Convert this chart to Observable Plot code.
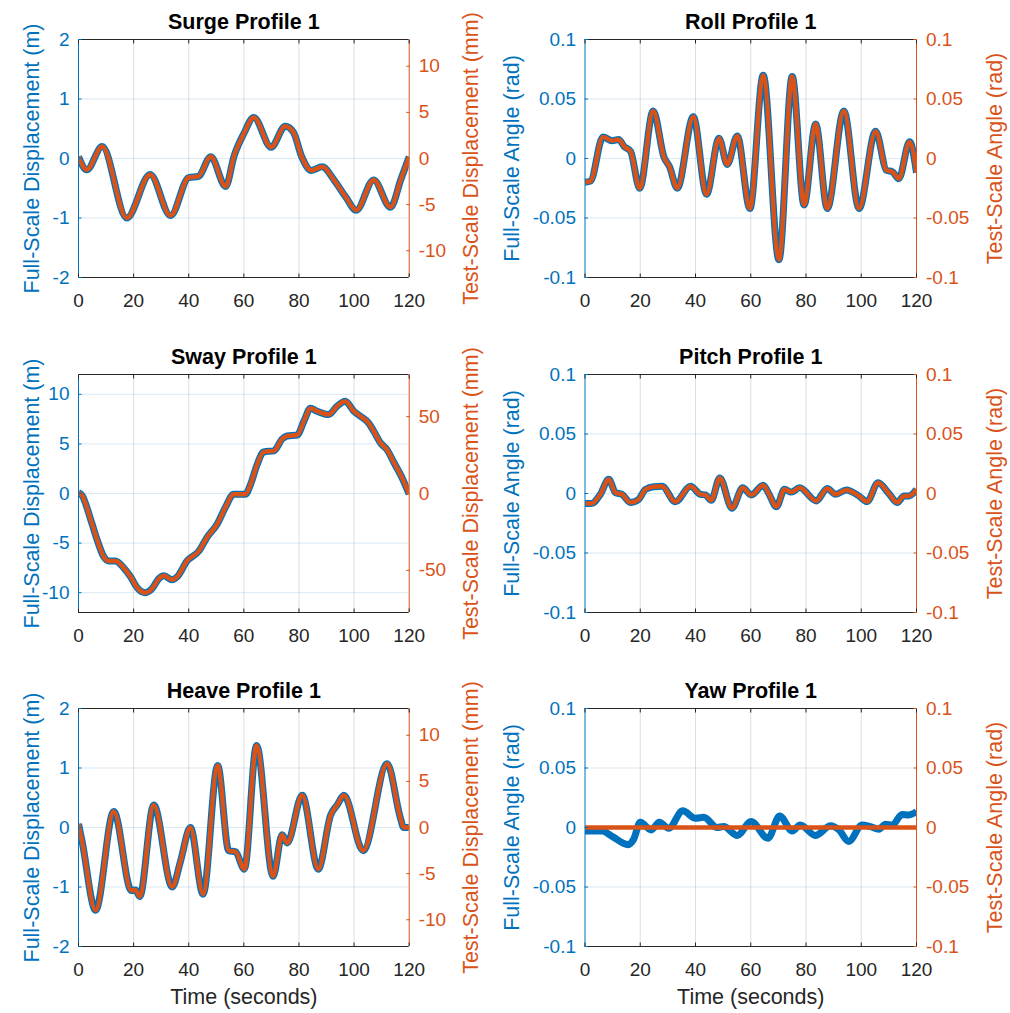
<!DOCTYPE html>
<html><head><meta charset="utf-8">
<script src="https://cdn.jsdelivr.net/npm/d3@7"></script>
<script src="https://cdn.jsdelivr.net/npm/@observablehq/plot@0.6"></script>
<style>
body{margin:0;background:#fff;}
#root{position:relative;width:1010px;height:1013px;}
#root > div{position:absolute;}
</style></head><body><div id="root"></div>
<script>
// ---------------- DATA ----------------
const timeTicks = [0, 20, 40, 60, 80, 100, 120];
const timeGrid = [20, 40, 60, 80, 100];
const mmPerM = 6.45; // test-scale mm per full-scale m (1:155 model)

const dispTicks = [-2, -1, 0, 1, 2];
const dispMmTicks = [-10, -5, 0, 5, 10];
const swayTicks = [-10, -5, 0, 5, 10];
const swayMmTicks = [-50, 0, 50];
const angleTicks = [-0.1, -0.05, 0, 0.05, 0.1];

const surgeT = [0, 3, 8.6, 17.5, 26, 33.4, 40, 43.5, 48, 53.4, 56.5, 60, 63.6, 69.9, 75, 78, 81, 84.5, 88.4, 93, 97, 100.8, 107.1, 113.2, 117, 120];
const surgeV = [0.03, -0.19, 0.2, -1.0, -0.27, -0.96, -0.32, -0.3, 0.03, -0.47, 0.05, 0.42, 0.69, 0.19, 0.54, 0.44, 0.03, -0.2, -0.14, -0.38, -0.65, -0.87, -0.36, -0.82, -0.35, 0.03];

const swayT = [0, 1.3, 4.4, 6.8, 9.2, 11, 13.4, 16.4, 18.9, 21.3, 24.3, 26.7, 29.1, 31, 34, 35.8, 39.4, 43.7, 46.7, 50.3, 53.3, 56.3, 60.6, 62.4, 64.8, 67.2, 70.9, 73.9, 75.7, 79.4, 81.8, 84.2, 86.6, 90.8, 93.8, 96.8, 99.9, 102.3, 105.3, 107.1, 109.6, 112, 114.5, 117.4, 120];
const swayV = [0.1, -0.2, -2.6, -4.7, -6.4, -6.8, -6.8, -7.5, -8.4, -9.5, -10.0, -9.6, -8.6, -8.3, -8.7, -8.4, -6.8, -5.8, -4.4, -3.1, -1.4, -0.07, -0.07, 0.9, 2.9, 4.2, 4.3, 5.5, 5.8, 5.9, 7.3, 8.6, 8.3, 7.96, 8.8, 9.3, 8.3, 7.8, 7.1, 6.3, 5.1, 4.4, 3.1, 1.6, -0.07];

const heaveT = [0, 1.3, 6.2, 12.8, 19.2, 20.7, 22.2, 27.3, 34, 37, 40.6, 45.2, 50.5, 54.5, 57, 60.2, 64.6, 70.6, 73.9, 75.7, 81.2, 87, 91.5, 93.9, 96.3, 103.3, 112, 116.8, 118, 120];
const heaveV = [0.06, -0.23, -1.39, 0.27, -1.06, -1.05, -1.16, 0.38, -1.0, -0.57, 0.0, -1.12, 1.04, -0.39, -0.41, -0.7, 1.38, -0.82, -0.12, -0.26, 0.54, -0.7, 0.21, 0.38, 0.54, -0.39, 1.07, 0.16, 0.0, 0.0];

const rollT = [0, 2, 6.5, 9.8, 12.2, 14.2, 16.5, 19.8, 24.7, 28.6, 30.6, 33.4, 39.2, 44, 48.5, 51.5, 55.1, 59.7, 64.5, 70.2, 75, 79.3, 83.5, 87.7, 93.7, 99.2, 105.2, 109.2, 111.2, 113.6, 117.5, 120];
const rollV = [-0.02, -0.019, 0.018, 0.015, 0.016, 0.01, 0.006, -0.025, 0.04, 0.001, -0.007, -0.025, 0.035, -0.03, 0.017, -0.005, 0.019, -0.042, 0.070, -0.085, 0.069, -0.039, 0.029, -0.042, 0.04, -0.042, 0.023, -0.01, -0.011, -0.017, 0.014, -0.012];

const pitchT = [0, 2.3, 5.5, 8.6, 11, 13.4, 16.4, 19.4, 21.9, 24.9, 27.9, 32.7, 38.2, 41.8, 43.6, 45.7, 48.8, 53.2, 57.1, 60.2, 64.5, 66.5, 69.3, 72.2, 74.7, 77.7, 83.7, 87.7, 90.7, 94.6, 99.1, 102.1, 106.1, 110, 113, 115.5, 117.3, 120];
const pitchV = [-0.0085, -0.0085, -0.001, 0.012, 0.0007, -0.0007, -0.0076, -0.005, 0.0035, 0.0057, 0.006, -0.007, 0.006, -0.0007, -0.0012, -0.0057, 0.013, -0.0123, 0.0048, -0.0012, 0.007, 0.0, -0.0112, 0.0035, 0.0012, 0.0048, -0.0062, 0.0043, -0.0007, 0.003, -0.002, -0.0068, 0.009, 0.0, -0.0076, -0.002, -0.002, 0.0035];

const yawT = [0, 6.2, 9.8, 15.6, 17.6, 20, 24, 26.9, 30.3, 35.4, 40, 43, 47.8, 50.2, 55.1, 60.1, 66.2, 70.5, 75, 77.9, 83.4, 88.9, 91.9, 95.5, 100.3, 103.3, 106.4, 108.8, 111.2, 114.8, 117.2, 120];
const yawV = [-0.003, -0.003, -0.0075, -0.0144, -0.01, 0.0044, -0.002, 0.0044, -0.0006, 0.014, 0.0078, 0.0086, 0.0, 0.0008, -0.0067, 0.005, -0.009, 0.0097, -0.003, 0.0022, -0.0067, 0.0014, -0.002, -0.0117, 0.0022, 0.0008, -0.0014, 0.0028, 0.002, 0.011, 0.0106, 0.0133];
// test-scale yaw command stays at zero
const yawTestT = [0, 120];
const yawTestV = [0, 0];

// ---------------- DRAW ----------------
const BLUE = "#0072BD", ORANGE = "#D95319", DARK = "#262626";
const FONT = '"Liberation Sans", Arial, Helvetica, sans-serif';
const zip = (T, V) => T.map((t, i) => ({t, v: V[i]}));

const panels = [
  {title: "Surge Profile 1", full: zip(surgeT, surgeV), test: zip(surgeT, surgeV), kind: "disp", dom: [-2, 2], lt: dispTicks, rt: dispMmTicks, col: 0, row: 0},
  {title: "Roll Profile 1", full: zip(rollT, rollV), test: zip(rollT, rollV), kind: "ang", dom: [-0.1, 0.1], lt: angleTicks, rt: angleTicks, col: 1, row: 0},
  {title: "Sway Profile 1", full: zip(swayT, swayV), test: zip(swayT, swayV), kind: "disp", dom: [-12, 12], lt: swayTicks, rt: swayMmTicks, col: 0, row: 1},
  {title: "Pitch Profile 1", full: zip(pitchT, pitchV), test: zip(pitchT, pitchV), kind: "ang", dom: [-0.1, 0.1], lt: angleTicks, rt: angleTicks, col: 1, row: 1},
  {title: "Heave Profile 1", full: zip(heaveT, heaveV), test: zip(heaveT, heaveV), kind: "disp", dom: [-2, 2], lt: dispTicks, rt: dispMmTicks, col: 0, row: 2},
  {title: "Yaw Profile 1", full: zip(yawT, yawV), test: zip(yawTestT, yawTestV), kind: "ang", dom: [-0.1, 0.1], lt: angleTicks, rt: angleTicks, col: 1, row: 2}
];

const root = document.getElementById("root");
const rowTop = [0, 334.5, 668.5];

for (const p of panels) {
  const isDisp = p.kind === "disp";
  const left = p.col === 0;
  const mL = left ? 78 : 79.5;
  const mR = left ? 96.3 : 94;
  const last = p.row === 2;
  const H = last ? 344.5 : 334;
  const mT = 39, mB = H - mT - 238;
  const rightPos = isDisp ? p.rt.map(m => m / mmPerM) : p.rt;
  const rightFmt = isDisp ? (d => String(Math.round(d * mmPerM))) : (d => String(d));
  const gridY = p.lt.filter(d => d > p.dom[0] && d < p.dom[1]);
  const leftLabel = isDisp ? "Full-Scale Displacement (m)" : "Full-Scale Angle (rad)";
  const rightLabel = isDisp ? "Test-Scale Displacement (mm)" : "Test-Scale Angle (rad)";

  const marks = [
    Plot.gridX(timeGrid, {stroke: DARK, strokeOpacity: 0.15, strokeWidth: 1}),
    Plot.gridY(gridY, {stroke: BLUE, strokeOpacity: 0.15, strokeWidth: 1}),
    Plot.line(p.full, {x: "t", y: "v", stroke: BLUE, strokeWidth: 7, curve: "monotone-x", clip: true, strokeLinecap: "butt"}),
    Plot.line(p.test, {x: "t", y: "v", stroke: ORANGE, strokeWidth: 4.5, curve: "monotone-x", clip: true, strokeLinecap: "butt"}),
    Plot.ruleY(p.dom, {stroke: DARK, strokeWidth: 1}),
    Plot.ruleX([0], {stroke: BLUE, strokeWidth: 1}),
    Plot.ruleX([120], {stroke: ORANGE, strokeWidth: 1}),
    Plot.axisX(timeTicks, {anchor: "bottom", tickSize: -3.5, tickPadding: 26.5, lineAnchor: "middle", color: DARK, label: null, tickFormat: d => String(d)}),
    Plot.axisX(timeTicks, {anchor: "top", tickSize: -3.5, stroke: DARK, fill: "none", label: null}),
    Plot.axisY(p.lt, {anchor: "left", tickSize: -3.5, tickPadding: 12.5, color: BLUE, label: null, tickFormat: d => String(d)}),
    Plot.axisY(rightPos, {anchor: "right", tickSize: -3.5, tickPadding: 13, color: ORANGE, label: null, tickFormat: rightFmt}),
    Plot.text([p.title], {text: d => d, frameAnchor: "top", dy: -17.5, textAnchor: "middle", lineAnchor: "middle", fontWeight: "bold", fontSize: 21.5, fill: "#000"}),
    Plot.text([leftLabel], {text: d => d, frameAnchor: "left", dx: left ? -46 : -72.5, rotate: -90, textAnchor: "middle", lineAnchor: "middle", fontSize: 21.5, fill: BLUE}),
    Plot.text([rightLabel], {text: d => d, frameAnchor: "right", dx: left ? 62.3 : 79, rotate: -90, textAnchor: "middle", lineAnchor: "middle", fontSize: 21.5, fill: ORANGE})
  ];
  if (last) {
    marks.push(Plot.text(["Time (seconds)"], {text: d => d, frameAnchor: "bottom", dy: 51, textAnchor: "middle", lineAnchor: "middle", fontSize: 21.5, fill: DARK}));
  }

  const svg = Plot.plot({
    width: 505,
    height: H,
    marginLeft: mL, marginRight: mR, marginTop: mT, marginBottom: mB,
    x: {domain: [0, 120], axis: null},
    y: {domain: p.dom, axis: null},
    style: {fontFamily: FONT, fontSize: "19px", background: "transparent", overflow: "visible"},
    marks
  });
  const wrap = document.createElement("div");
  wrap.style.left = (p.col * 505) + "px";
  wrap.style.top = rowTop[p.row] + "px";
  wrap.appendChild(svg);
  root.appendChild(wrap);
}
</script>
</body></html>
